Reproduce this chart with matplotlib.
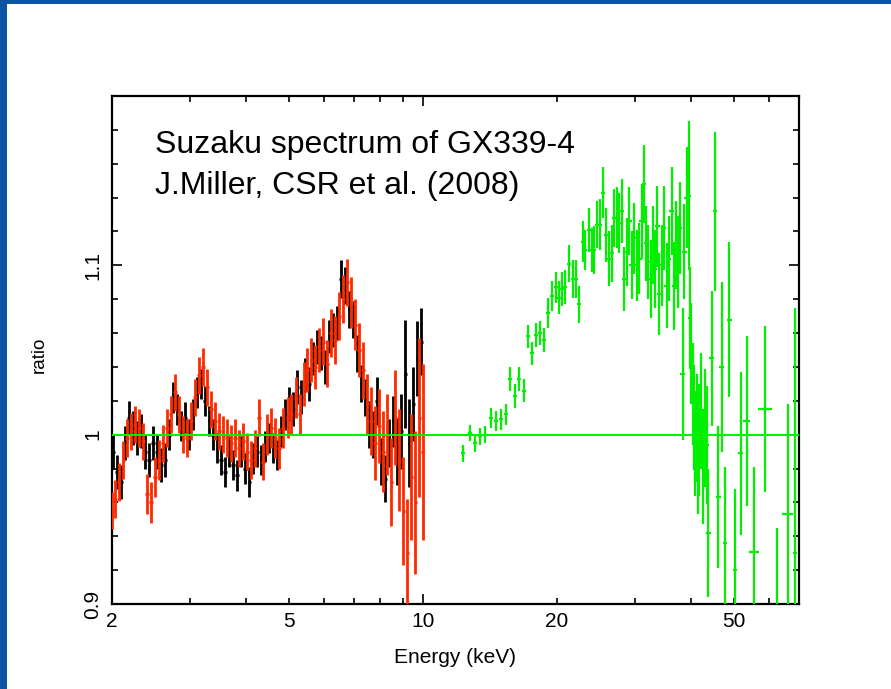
"""
Suzaku GX339-4 spectrum ratio plot (XIS + PIN)
"""

import matplotlib.pyplot as plt
import numpy as np
from matplotlib import ticker
from matplotlib.patches import Rectangle

plt.rcParams["font.family"] = ["Liberation Sans", "DejaVu Sans"]

# XIS (black) data: energy (keV), ratio, 1-sigma error
xis0_e = [2.01, 2.05, 2.10, 2.14, 2.18, 2.23, 2.28, 2.32, 2.37, 2.42,
          2.47, 2.52, 2.58, 2.63, 2.69, 2.74, 2.80, 2.86, 2.92, 2.98,
          3.04, 3.11, 3.17, 3.24, 3.31, 3.37, 3.45, 3.52, 3.59, 3.67,
          3.74, 3.82, 3.90, 3.98, 4.07, 4.15, 4.24, 4.33, 4.42, 4.51,
          4.61, 4.70, 4.80, 4.90, 5.01, 5.11, 5.22, 5.33, 5.44, 5.55,
          5.67, 5.79, 5.91, 6.03, 6.16, 6.29, 6.42, 6.55, 6.69, 6.83,
          6.97, 7.12, 7.27, 7.42, 7.57, 7.73, 7.89, 8.06, 8.23, 8.40,
          8.58, 8.76, 8.94, 9.13, 9.32, 9.51, 9.71, 9.91]
xis0_r = [0.990, 0.978, 0.972, 0.995, 1.010, 1.004, 0.998, 1.002, 0.990, 0.985,
          0.995, 0.990, 0.982, 0.985, 1.000, 1.022, 1.015, 1.005, 1.010, 1.000,
          1.012, 1.025, 1.030, 1.020, 1.008, 1.000, 0.992, 0.985, 0.978, 0.990,
          0.982, 0.976, 0.990, 0.980, 0.972, 0.986, 0.990, 0.985, 0.993, 0.998,
          0.992, 0.988, 1.002, 1.012, 1.018, 1.015, 1.028, 1.022, 1.035, 1.030,
          1.045, 1.052, 1.048, 1.040, 1.058, 1.062, 1.066, 1.092, 1.088, 1.074,
          1.068, 1.048, 1.030, 1.022, 1.006, 1.000, 1.020, 0.984, 0.974, 0.995,
          1.008, 0.990, 1.002, 1.036, 0.995, 1.018, 1.045, 1.055]
xis0_err = [0.010, 0.010, 0.010, 0.010, 0.010, 0.010, 0.010, 0.010, 0.010, 0.010,
            0.010, 0.010, 0.010, 0.010, 0.009, 0.009, 0.009, 0.009, 0.009, 0.009,
            0.009, 0.009, 0.009, 0.009, 0.009, 0.009, 0.009, 0.009, 0.009, 0.009,
            0.009, 0.009, 0.009, 0.009, 0.009, 0.009, 0.009, 0.009, 0.009, 0.009,
            0.009, 0.009, 0.009, 0.009, 0.010, 0.010, 0.010, 0.010, 0.010, 0.010,
            0.010, 0.010, 0.010, 0.010, 0.010, 0.010, 0.010, 0.011, 0.011, 0.011,
            0.011, 0.011, 0.011, 0.011, 0.014, 0.014, 0.014, 0.014, 0.014, 0.014,
            0.015, 0.020, 0.022, 0.032, 0.026, 0.022, 0.022, 0.020]

# XIS (red) data
xis1_e = [2.00, 2.03, 2.07, 2.12, 2.16, 2.21, 2.25, 2.30, 2.35, 2.40,
          2.45, 2.50, 2.55, 2.60, 2.66, 2.71, 2.77, 2.83, 2.89, 2.95,
          3.01, 3.07, 3.14, 3.20, 3.27, 3.34, 3.41, 3.48, 3.56, 3.63,
          3.71, 3.78, 3.86, 3.94, 4.02, 4.11, 4.19, 4.28, 4.37, 4.47,
          4.56, 4.66, 4.75, 4.85, 4.96, 5.06, 5.17, 5.28, 5.39, 5.50,
          5.61, 5.73, 5.85, 5.97, 6.10, 6.22, 6.35, 6.49, 6.62, 6.76,
          6.90, 7.05, 7.19, 7.34, 7.50, 7.65, 7.81, 7.97, 8.14, 8.31,
          8.49, 8.67, 8.85, 9.03, 9.22, 9.42, 9.61, 9.81, 9.98]
xis1_r = [0.955, 0.962, 0.972, 0.985, 0.998, 1.002, 1.006, 1.004, 0.996, 0.965,
          0.960, 0.975, 0.985, 0.995, 1.004, 1.012, 1.025, 1.012, 1.000, 0.998,
          1.008, 1.022, 1.035, 1.040, 1.028, 1.015, 1.008, 1.002, 1.000, 0.998,
          0.995, 0.998, 0.992, 0.996, 0.990, 0.985, 0.992, 1.010, 0.984, 1.000,
          1.004, 0.998, 0.992, 1.004, 1.010, 1.012, 1.022, 1.012, 1.030, 1.038,
          1.044, 1.040, 1.050, 1.055, 1.042, 1.060, 1.056, 1.070, 1.080, 1.090,
          1.078, 1.065, 1.050, 1.038, 1.018, 1.008, 0.995, 1.005, 0.990, 1.000,
          0.972, 1.010, 0.985, 0.955, 0.930, 0.975, 0.960, 1.010, 0.990]
xis1_err = [0.011, 0.011, 0.011, 0.011, 0.011, 0.011, 0.011, 0.011, 0.011, 0.012,
            0.012, 0.012, 0.012, 0.011, 0.011, 0.011, 0.011, 0.011, 0.011, 0.011,
            0.011, 0.011, 0.011, 0.011, 0.011, 0.011, 0.011, 0.011, 0.011, 0.011,
            0.011, 0.011, 0.011, 0.011, 0.011, 0.011, 0.011, 0.011, 0.011, 0.012,
            0.012, 0.012, 0.012, 0.012, 0.012, 0.012, 0.012, 0.012, 0.013, 0.013,
            0.013, 0.013, 0.013, 0.014, 0.014, 0.014, 0.014, 0.014, 0.014, 0.014,
            0.015, 0.015, 0.016, 0.017, 0.018, 0.020, 0.022, 0.022, 0.024, 0.024,
            0.026, 0.028, 0.030, 0.032, 0.032, 0.037, 0.042, 0.047, 0.052]

# PIN (green) data
pin_e = [12.30, 12.75, 13.09, 13.43, 13.78, 14.21, 14.59, 14.97, 15.36, 15.68,
         16.09, 16.43, 16.86, 17.21, 17.58, 17.94, 18.32, 18.70, 19.09, 19.49,
         19.90, 20.21, 20.52, 20.84, 21.28, 21.73, 22.06, 22.41, 22.88, 23.12,
         23.61, 23.98, 24.23, 24.61, 24.99, 25.38, 25.78, 26.18, 26.59, 26.87,
         27.29, 27.57, 27.96, 28.29, 28.68, 29.08, 29.44, 29.79, 30.20, 30.62,
         31.00, 31.38, 31.70, 32.08, 32.48, 32.81, 33.21, 33.61, 33.96, 34.38,
         34.79, 35.28, 35.71, 36.20, 36.65, 37.03, 37.48, 37.80, 38.33, 38.66,
         39.13, 39.54, 39.82, 40.03, 40.38, 40.66, 40.94, 41.22, 41.50, 41.79,
         42.15, 42.52, 43.03, 43.40, 43.77, 44.54, 45.31, 46.10, 46.89, 47.70,
         48.78, 50.24, 51.73, 53.36, 55.43, 58.69, 62.33, 66.00, 68.52]
pin_r = [0.989, 1.001, 0.995, 0.999, 1.000, 1.010, 1.008, 1.009, 1.012, 1.033,
         1.023, 1.033, 1.026, 1.058, 1.048, 1.059, 1.060, 1.056, 1.072, 1.082,
         1.087, 1.081, 1.086, 1.087, 1.101, 1.092, 1.092, 1.077, 1.114, 1.109,
         1.121, 1.109, 1.109, 1.124, 1.124, 1.143, 1.118, 1.104, 1.107, 1.128,
         1.128, 1.125, 1.132, 1.092, 1.108, 1.126, 1.100, 1.116, 1.100, 1.104,
         1.126, 1.148, 1.113, 1.102, 1.092, 1.112, 1.098, 1.123, 1.083, 1.100,
         1.122, 1.088, 1.104, 1.132, 1.088, 1.112, 1.102, 1.122, 1.036, 1.108,
         1.140, 1.141, 1.069, 1.048, 1.024, 1.010, 0.995, 1.004, 0.985, 0.997,
         1.014, 0.981, 1.004, 0.994, 0.942, 1.045, 1.132, 0.963, 1.040, 0.936,
         1.068, 0.920, 0.989, 1.008, 0.931, 1.015, 0.885, 0.953, 0.930]
pin_err = [0.005, 0.005, 0.005, 0.005, 0.005, 0.006, 0.006, 0.006, 0.006, 0.007,
           0.007, 0.007, 0.007, 0.007, 0.007, 0.007, 0.007, 0.007, 0.009, 0.009,
           0.009, 0.010, 0.010, 0.010, 0.011, 0.011, 0.011, 0.011, 0.012, 0.012,
           0.013, 0.013, 0.014, 0.014, 0.015, 0.015, 0.016, 0.016, 0.017, 0.017,
           0.018, 0.018, 0.019, 0.019, 0.020, 0.020, 0.020, 0.021, 0.021, 0.021,
           0.022, 0.023, 0.022, 0.022, 0.023, 0.023, 0.023, 0.024, 0.024, 0.024,
           0.025, 0.025, 0.025, 0.026, 0.026, 0.026, 0.027, 0.027, 0.039, 0.028,
           0.030, 0.044, 0.030, 0.030, 0.030, 0.031, 0.031, 0.032, 0.032, 0.033,
           0.034, 0.034, 0.035, 0.035, 0.038, 0.040, 0.047, 0.042, 0.050, 0.045,
           0.046, 0.048, 0.048, 0.050, 0.050, 0.049, 0.060, 0.065, 0.145]
# half bin widths as a fraction of energy; the last seven bins are wider
pin_wide_bins = [0.015, 0.020, 0.026, 0.037, 0.015, 0.028, 0.010]

xis0_e = np.array(xis0_e)
xis1_e = np.array(xis1_e)
pin_e = np.array(pin_e)
pin_dx = np.full(len(pin_e), 0.012)
pin_dx[-len(pin_wide_bins):] = pin_wide_bins

fig = plt.figure(figsize=(8.91, 6.89), dpi=100)
fig.patch.set_facecolor("#0b56a2")
fig.add_artist(
    Rectangle((7 / 891, 0), 1, 685 / 689, transform=fig.transFigure,
              facecolor="white", edgecolor="none", zorder=0)
)

ax = fig.add_axes([112 / 891, 85 / 689, 687 / 891, 508 / 689])

# data with error crosses
ax.errorbar(xis0_e, xis0_r, xerr=xis0_e * 0.009, yerr=xis0_err, fmt="none",
            ecolor="black", elinewidth=2.0, capsize=0, zorder=2)
ax.errorbar(xis1_e, xis1_r, xerr=xis1_e * 0.009, yerr=xis1_err, fmt="none",
            ecolor="#ff2a00", elinewidth=2.0, capsize=0, zorder=3)
ax.errorbar(pin_e, pin_r, xerr=pin_e * pin_dx, yerr=pin_err, fmt="none",
            ecolor="#00f000", elinewidth=1.6, capsize=0, zorder=3)

# unity line
ax.axhline(1.0, color="#00f000", linewidth=1.4, zorder=4)

# axes setup
ax.set_xscale("log")
ax.set_xlim(2, 70)
ax.set_ylim(0.9, 1.2)

ax.xaxis.set_major_locator(ticker.FixedLocator([10]))
ax.xaxis.set_minor_locator(ticker.FixedLocator(
    [2, 3, 4, 5, 6, 7, 8, 9, 20, 30, 40, 50, 60, 70]))
ax.xaxis.set_major_formatter(ticker.FixedFormatter(["10"]))
ax.xaxis.set_minor_formatter(ticker.FuncFormatter(
    lambda x, pos: "{:.0f}".format(x) if x in (2, 5, 20, 50) else ""))

ax.yaxis.set_major_locator(ticker.FixedLocator([0.9, 1.0, 1.1]))
ax.yaxis.set_minor_locator(ticker.MultipleLocator(0.02))
ax.yaxis.set_major_formatter(ticker.FixedFormatter(["0.9", "1", "1.1"]))

ax.tick_params(axis="both", which="both", direction="in", top=True, right=True,
               labelsize=15, width=1.2, color="black")
ax.tick_params(axis="both", which="major", length=7)
ax.tick_params(axis="both", which="minor", length=4)
ax.tick_params(axis="x", which="both", pad=6)
ax.tick_params(axis="y", which="both", pad=7)
for lab in ax.get_yticklabels():
    lab.set_rotation(90)
    lab.set_va("center")

for s in ax.spines.values():
    s.set_linewidth(1.6)

ax.set_xlabel("Energy (keV)", fontsize=15)
ax.xaxis.set_label_coords(0.5, -0.087)
ax.set_ylabel("ratio", fontsize=13.5)
ax.yaxis.set_label_coords(-0.093, 0.49)

# annotation
fig.text(155 / 891, (689 - 153) / 689, "Suzaku spectrum of GX339-4",
         fontsize=23, va="baseline")
fig.text(155 / 891, (689 - 194) / 689, "J.Miller, CSR et al. (2008)",
         fontsize=23, va="baseline")

fig.savefig("out.png", dpi=100, facecolor=fig.get_facecolor())
